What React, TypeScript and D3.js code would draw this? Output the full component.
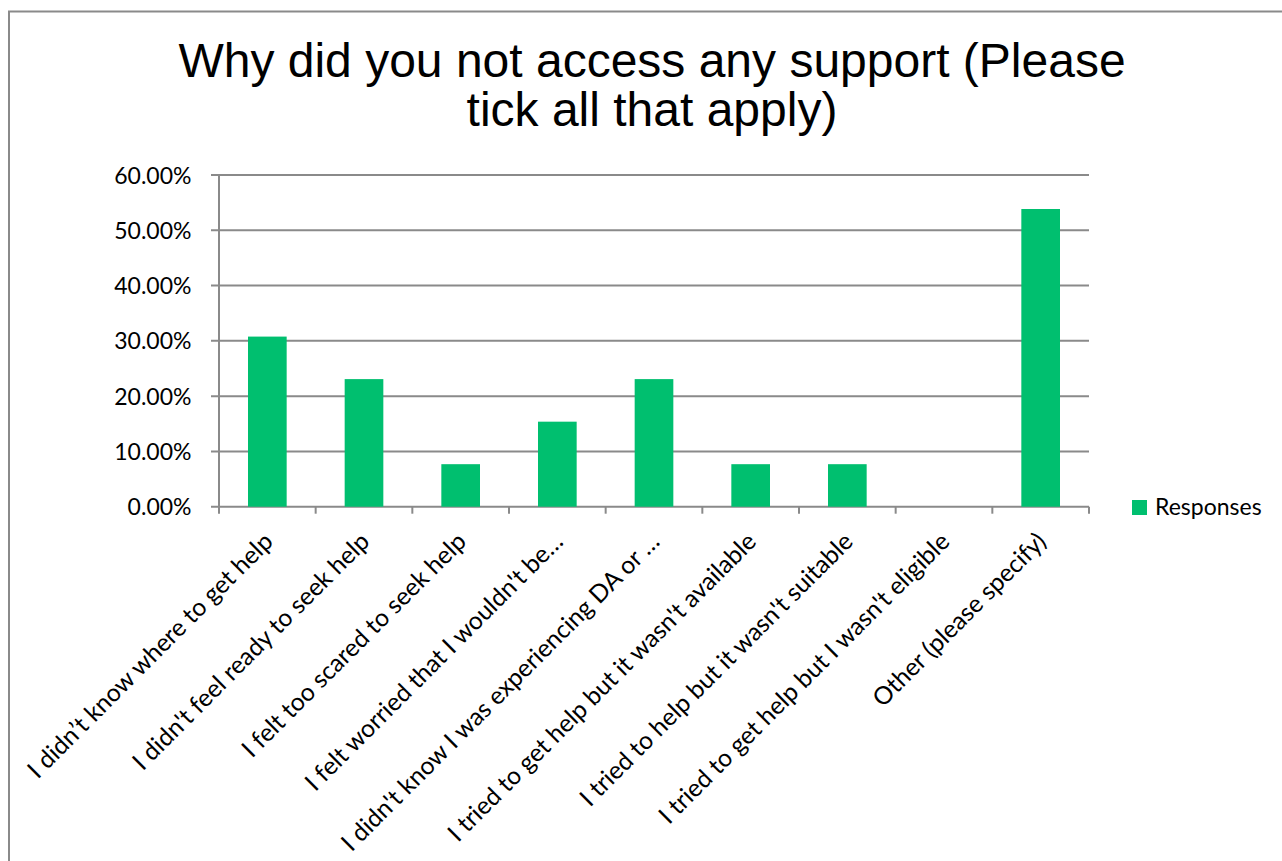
import React from "react";
import * as d3 from "d3";

const categories = [
  "I didn’t know where to get help",
  "I didn't feel ready to seek help",
  "I felt too scared to seek help",
  "I felt worried that I wouldn't be…",
  "I didn't know I was experiencing DA or …",
  "I tried to get help but it wasn't available",
  "I tried to help but it wasn't suitable",
  "I tried to get help but I wasn't eligible",
  "Other (please specify)",
];
const responses = [0.3077, 0.2308, 0.0769, 0.1538, 0.2308, 0.0769, 0.0769, 0, 0.5385];
const yTicks = [0, 0.1, 0.2, 0.3, 0.4, 0.5, 0.6];
const titleLines = ["Why did you not access any support (Please", "tick all that apply)"];
const seriesName = "Responses";

const W = 1282;
const H = 861;
const plot = { left: 219, right: 1089, top: 175, bottom: 506.7 };
const GRID = "#8a8a8a";
const BAR = "#00bf6f";
const FONT = "Lato, 'Open Sans', sans-serif";

export default function App() {
  const x = d3
    .scaleBand<string>()
    .domain(categories)
    .range([plot.left, plot.right])
    .paddingInner(0.6)
    .paddingOuter(0.3);
  const y = d3.scaleLinear().domain([0, 0.6]).range([plot.bottom, plot.top]);
  const step = x.step();
  const fmt = d3.format(".2%");

  return (
    <svg
      width={W}
      height={H}
      style={{ position: "absolute", left: 0, top: 0, background: "#fff" }}
    >
      <rect x={0} y={0} width={W} height={H} fill="#fff" />
      <rect x={9} y={11.5} width={1400} height={1000} fill="none" stroke={GRID} strokeWidth={2} />
      {titleLines.map((t, i) => (
        <text
          key={i}
          x={652}
          y={77 + i * 49}
          textAnchor="middle"
          fontFamily="'Liberation Sans', Arial, sans-serif"
          fontSize={48}
          fill="#000"
        >
          {t}
        </text>
      ))}
      {yTicks.map((t) => (
        <g key={t}>
          <line
            x1={plot.left - 8}
            x2={plot.right}
            y1={y(t)}
            y2={y(t)}
            stroke={GRID}
            strokeWidth={2}
          />
          <text
            x={191.5}
            y={y(t) + 8.5}
            textAnchor="end"
            fontFamily={FONT}
            fontSize={23}
            fill="#000"
          >
            {fmt(t)}
          </text>
        </g>
      ))}
      <line x1={plot.left} x2={plot.left} y1={plot.top} y2={plot.bottom + 7} stroke={GRID} strokeWidth={2} />
      {categories.map((c, i) => (
        <line
          key={"t" + i}
          x1={plot.left + (i + 1) * step}
          x2={plot.left + (i + 1) * step}
          y1={plot.bottom}
          y2={plot.bottom + 7}
          stroke={GRID}
          strokeWidth={2}
        />
      ))}
      {categories.map((c, i) => (
        <rect
          key={"b" + i}
          x={x(c)}
          y={y(responses[i])}
          width={x.bandwidth()}
          height={plot.bottom - y(responses[i])}
          fill={BAR}
        />
      ))}
      {categories.map((c, i) => {
        const cx = (x(c) as number) + x.bandwidth() / 2;
        return (
          <text
            key={"l" + i}
            transform={`translate(${cx + 1},${537}) rotate(-45)`}
            textAnchor="end"
            dy="0.35em"
            fontFamily={FONT}
            fontSize={24.6}
            fill="#000"
          >
            {c}
          </text>
        );
      })}
      <rect x={1132} y={500} width={15} height={15} fill={BAR} />
      <text x={1155} y={515} fontFamily={FONT} fontSize={23} fill="#000">
        {seriesName}
      </text>
    </svg>
  );
}
